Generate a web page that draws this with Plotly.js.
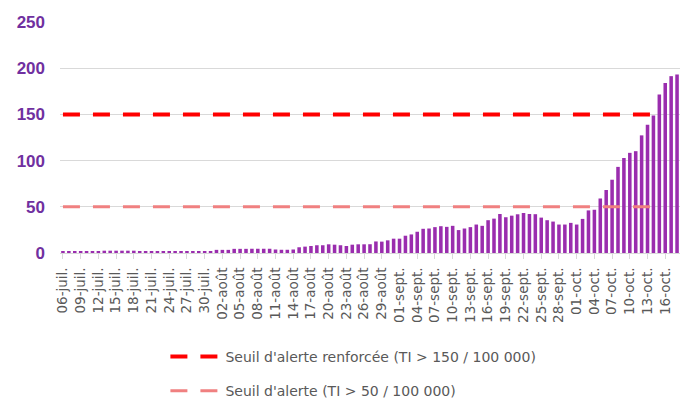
<!DOCTYPE html>
<html>
<head>
<meta charset="utf-8">
<script src="https://cdn.plot.ly/plotly-3.0.1.min.js"></script>
<style>
  html, body { margin: 0; padding: 0; background: #fff; }
  #chart { width: 694px; height: 419px; }
</style>
</head>
<body>
<div id="chart"></div>
<script>
// jours (06-juil. -> 18-oct.)
var daysJuly = ['06-juil.','07-juil.','08-juil.','09-juil.','10-juil.','11-juil.','12-juil.','13-juil.','14-juil.','15-juil.',
  '16-juil.','17-juil.','18-juil.','19-juil.','20-juil.','21-juil.','22-juil.','23-juil.','24-juil.','25-juil.',
  '26-juil.','27-juil.','28-juil.','29-juil.','30-juil.','31-juil.'];
var daysAug = ['01-août','02-août','03-août','04-août','05-août','06-août','07-août','08-août','09-août','10-août',
  '11-août','12-août','13-août','14-août','15-août','16-août','17-août','18-août','19-août','20-août',
  '21-août','22-août','23-août','24-août','25-août','26-août','27-août','28-août','29-août','30-août','31-août'];
var daysSept = ['01-sept.','02-sept.','03-sept.','04-sept.','05-sept.','06-sept.','07-sept.','08-sept.','09-sept.','10-sept.',
  '11-sept.','12-sept.','13-sept.','14-sept.','15-sept.','16-sept.','17-sept.','18-sept.','19-sept.','20-sept.',
  '21-sept.','22-sept.','23-sept.','24-sept.','25-sept.','26-sept.','27-sept.','28-sept.','29-sept.','30-sept.'];
var daysOct = ['01-oct.','02-oct.','03-oct.','04-oct.','05-oct.','06-oct.','07-oct.','08-oct.','09-oct.','10-oct.',
  '11-oct.','12-oct.','13-oct.','14-oct.','15-oct.','16-oct.','17-oct.','18-oct.'];
var days = daysJuly.concat(daysAug, daysSept, daysOct);

// taux d'incidence
var tiJuly = [2,2,2,2,2,2,2,2.5,2.5,2.5,2.5,2.5,2.5,2,2,2,2,2,2,2,2,2,2,2,2,2];
var tiAug = [3.4,3.4,3.4,4.5,4.5,4.5,4.6,4.6,4.6,4.6,3.8,3.5,3.5,3.8,6.2,6.9,7.6,8.4,8.4,9.4,
  9,8.4,7.6,9,9.4,9.4,9.5,12.5,12.3,13.7,15.5];
var tiSept = [15.5,18.7,20.1,23,26.2,26.5,28,29,28.3,29.4,24.8,26.5,28,30.8,29.4,35.5,37.2,42.2,38.7,40.4,
  41.9,43.3,42.2,42,38.3,35.5,34,30.8,30.8,32.6];
var tiOct = [30.8,36.9,46.1,46.8,59,68.2,79.3,93.2,102.8,108.4,110.2,127.3,138.7,148.7,171.5,184,191.4,193.2];
var ti = tiJuly.concat(tiAug, tiSept, tiOct);

var tickLabels = ['06-juil.','09-juil.','12-juil.','15-juil.','18-juil.','21-juil.','24-juil.','27-juil.','30-juil.',
  '02-août','05-août','08-août','11-août','14-août','17-août','20-août','23-août','26-août','29-août',
  '01-sept.','04-sept.','07-sept.','10-sept.','13-sept.','16-sept.','19-sept.','22-sept.','25-sept.','28-sept.',
  '01-oct.','04-oct.','07-oct.','10-oct.','13-oct.','16-oct.'];

// seuils
var seuilDates = ['06-juil.', '15-oct.'];
var seuilRenforce = [150, 150];
var seuilAlerte = [50, 50];

var data = [
  {
    type: 'bar', x: days, y: ti, showlegend: false,
    marker: { color: '#9A2DAE' }, hoverinfo: 'x+y'
  },
  {
    type: 'scatter', mode: 'lines', x: seuilDates, y: seuilRenforce,
    name: "Seuil d'alerte renforcée (TI > 150 / 100 000)", legend: 'legend',
    line: { color: '#FF0000', width: 4, dash: '17px,13px' }
  },
  {
    type: 'scatter', mode: 'lines', x: seuilDates, y: seuilAlerte,
    name: "Seuil d'alerte (TI > 50 / 100 000)", legend: 'legend2',
    line: { color: '#F08080', width: 3, dash: '17px,13px' }
  }
];

var legendFont = { family: 'DejaVu Sans, sans-serif', size: 14, color: '#595959' };

var layout = {
  width: 694, height: 419,
  margin: { l: 60, r: 14, t: 22, b: 162 },
  paper_bgcolor: '#fff', plot_bgcolor: '#fff',
  bargap: 0.4,
  xaxis: {
    type: 'category', categoryorder: 'array', categoryarray: days,
    tickmode: 'array', tickvals: tickLabels, ticktext: tickLabels,
    tickangle: -90, automargin: false, ticklabelstandoff: 3,
    tickfont: { family: 'DejaVu Sans, sans-serif', size: 13.5, color: '#595959' },
    showline: true, linecolor: '#D9D9D9', linewidth: 1,
    ticks: 'outside', ticklen: 5, tickcolor: '#D9D9D9',
    showgrid: false, zeroline: false
  },
  yaxis: {
    range: [0, 250], dtick: 50, tick0: 0, automargin: false,
    tickfont: { family: 'Liberation Sans, Arial, sans-serif', size: 17, color: '#7030A0', weight: 'bold' },
    ticklabelstandoff: 14,
    gridcolor: '#D9D9D9', gridwidth: 1,
    showline: false, zeroline: false, ticks: ''
  },
  showlegend: true,
  legend: {
    x: 0.17, xanchor: 'left', y: -0.38, yanchor: 'top',
    itemwidth: 50, font: legendFont, bgcolor: 'rgba(0,0,0,0)'
  },
  legend2: {
    x: 0.17, xanchor: 'left', y: -0.529, yanchor: 'top',
    itemwidth: 50, font: legendFont, bgcolor: 'rgba(0,0,0,0)'
  }
};

Plotly.newPlot('chart', data, layout, { displayModeBar: false });
</script>
</body>
</html>
